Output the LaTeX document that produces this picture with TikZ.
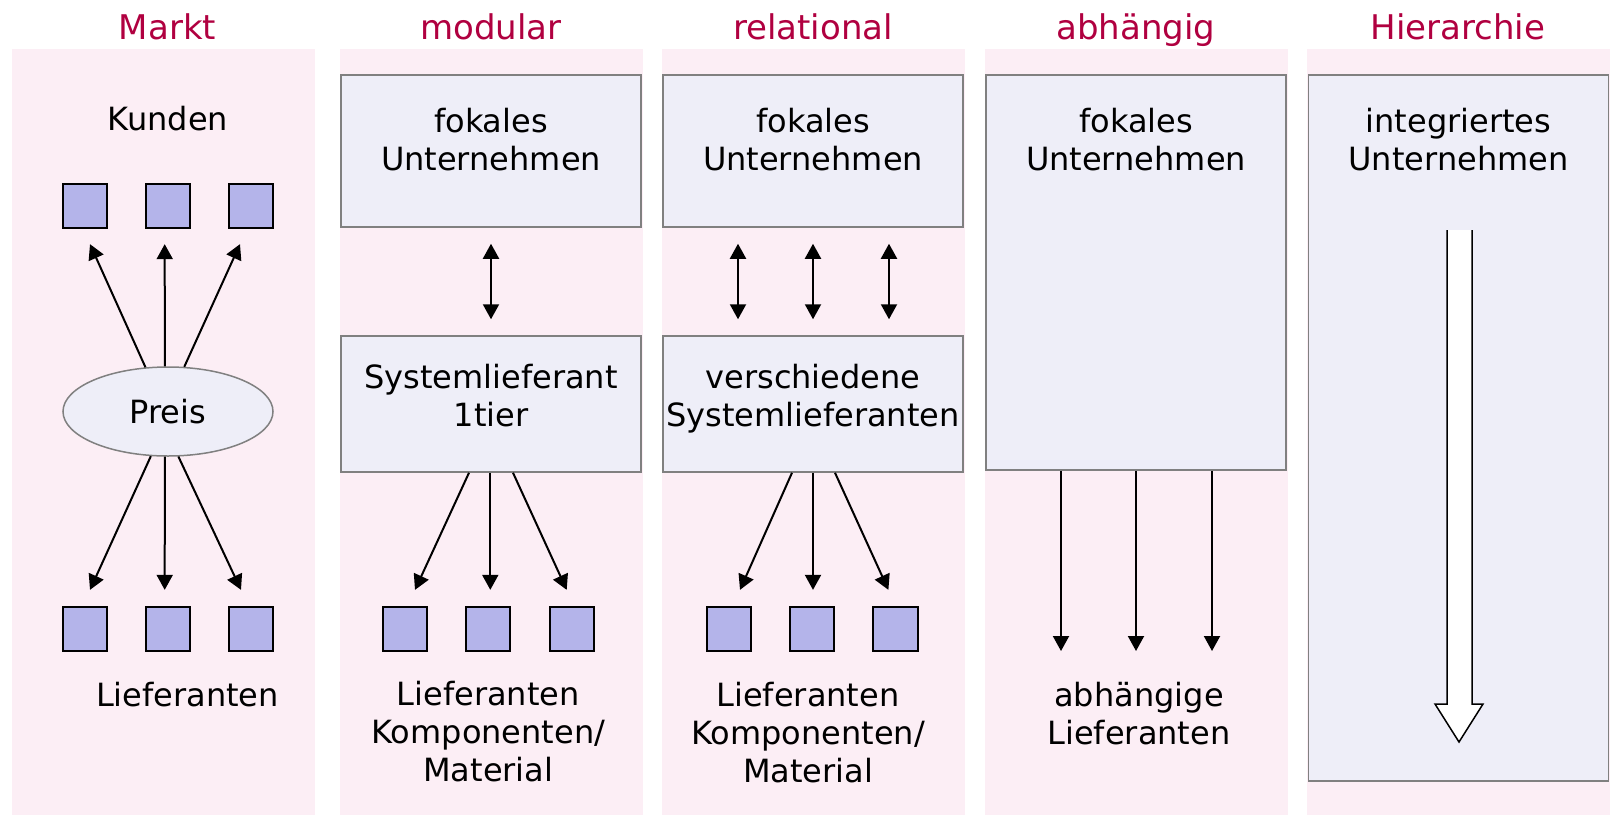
\documentclass[tikz,border=0pt]{standalone}
\usepackage{fontspec}
\setmainfont{DejaVu Sans}
\usetikzlibrary{arrows.meta, shapes.geometric, positioning}

\definecolor{colpink}{RGB}{252,238,245}
\definecolor{firmfill}{RGB}{238,238,248}
\definecolor{firmline}{RGB}{128,128,128}
\definecolor{sqfill}{RGB}{180,180,234}
\definecolor{headred}{RGB}{176,0,64}

\tikzset{
  firm/.style={draw=firmline, fill=firmfill, line width=1.5pt, minimum width=300pt, inner sep=0pt},
  sq/.style={draw=black, fill=sqfill, line width=2pt, minimum size=44.3pt, inner sep=0pt},
  txt/.style={align=center, inner sep=0pt, font=\fontsize{32}{38}\selectfont},
  colhead/.style={inner sep=0pt, anchor=base, text=headred, font=\fontsize{34}{40}\selectfont},
  arr/.style={line width=2pt, -{Triangle[length=15pt,width=16pt]}},
  darr/.style={line width=2pt, {Triangle[length=15pt,width=16pt]}-{Triangle[length=15pt,width=16pt]},
    shorten <=16pt, shorten >=16pt},
}

\begin{document}
\begin{tikzpicture}[x=1pt, y=-1pt]
  \useasboundingbox (0,0) rectangle (1610,815);

  % columns
  \foreach \x in {12,340,662,985,1307}
    \fill[colpink] (\x,49) rectangle ++(303,766);

  \node[colhead] (tMarkt) at (167.5,39) {Markt};
  \node[colhead] (tModular) at (491,39) {modular};
  \node[colhead] (tRelational) at (813,39) {relational};
  \node[colhead] (tAbh) at (1136,39) {abhängig};
  \node[colhead] (tHier) at (1458,39) {Hierarchie};

  % Markt
  \node[txt, anchor=base] (kunden) at (168,130) {Kunden};
  \node[sq] (kd1) at (85,206) {};
  \node[sq] (kd2) at (167.7,206) {};
  \node[sq] (kd3) at (251,206) {};
  \node[txt, ellipse, draw=firmline, fill=firmfill, line width=1.5pt,
        minimum width=210pt, minimum height=89pt] (preis) at (168,411.5) {Preis};
  \node[sq] (lf1) at (85,629) {};
  \node[sq] (lf2) at (167.7,629) {};
  \node[sq] (lf3) at (251,629) {};
  \node[txt, anchor=base] (lief) at (187.5,706.5) {Lieferanten};
  \path[arr]
    (preis.117) edge ([xshift=5pt,yshift=-15pt]kd1.south)
    (preis.94)  edge ([xshift=-3pt,yshift=-15pt]kd2.south)
    (preis.70)  edge ([xshift=-11pt,yshift=-15pt]kd3.south)
    (preis.249) edge ([xshift=5pt,yshift=16pt]lf1.north)
    (preis.266) edge ([xshift=-3pt,yshift=16pt]lf2.north)
    (preis.283) edge ([xshift=-10pt,yshift=16pt]lf3.north);

  % modular
  \node[firm, minimum height=152pt] (fokA) at (491,151) {};
  \node[txt, below=34pt of fokA.north] (fokAtxt) {fokales\\Unternehmen};
  \node[firm, minimum height=136pt] (sysA) at (491,404) {};
  \node[txt, below=29pt of sysA.north] (sysAtxt) {Systemlieferant\\1tier};
  \path[darr] (fokA.south) edge (sysA.north);
  \node[sq] (lA1) at (405,629) {};
  \node[sq] (lA2) at (488.3,629) {};
  \node[sq] (lA3) at (571.7,629) {};
  \path[arr]
    ([xshift=-22pt]sysA.south) edge ([xshift=10pt,yshift=16pt]lA1.north)
    ([xshift=-0.7pt]sysA.south) edge ([xshift=2pt,yshift=16pt]lA2.north)
    ([xshift=22pt]sysA.south) edge ([xshift=-5pt,yshift=16pt]lA3.north);
  \node[txt, below=29pt of lA2.south] (lfAtxt) {Lieferanten\\Komponenten/\\Material};

  % relational
  \node[firm, minimum height=152pt] (fokB) at (813,151) {};
  \node[txt, below=34pt of fokB.north] (fokBtxt) {fokales\\Unternehmen};
  \node[firm, minimum height=136pt] (relB) at (813,404) {};
  \node[txt, below=29pt of relB.north] (relBtxt) {verschiedene\\Systemlieferanten};
  \path[darr]
    ([xshift=-75pt]fokB.south) edge ([xshift=-75pt]relB.north)
    (fokB.south) edge (relB.north)
    ([xshift=76pt]fokB.south) edge ([xshift=76pt]relB.north);
  \node[sq] (lB1) at (729,629) {};
  \node[sq] (lB2) at (812.2,629) {};
  \node[sq] (lB3) at (895.4,629) {};
  \path[arr]
    ([xshift=-21pt]relB.south) edge ([xshift=11pt,yshift=16pt]lB1.north)
    (relB.south) edge ([xshift=0.8pt,yshift=16pt]lB2.north)
    ([xshift=22pt]relB.south) edge ([xshift=-7pt,yshift=16pt]lB3.north);
  \node[txt, anchor=north] (lfBtxt) at (808,681.7) {Lieferanten\\Komponenten/\\Material};

  % abhaengig
  \node[firm, minimum height=395pt] (fokC) at (1136,272.5) {};
  \node[txt, below=34pt of fokC.north] (fokCtxt) {fokales\\Unternehmen};
  \coordinate (abh1) at (1061,651);
  \coordinate (abh2) at (1136,651);
  \coordinate (abh3) at (1212,651);
  \path[arr]
    ([xshift=-75pt]fokC.south) edge (abh1)
    (fokC.south) edge (abh2)
    ([xshift=76pt]fokC.south) edge (abh3);
  \node[txt, anchor=north] (abhtxt) at (1139,682) {abhängige\\Lieferanten};

  % Hierarchie
  \node[firm, minimum height=706pt] (intE) at (1458.5,428) {};
  \node[txt, below=34pt of intE.north] (intEtxt) {integriertes\\Unternehmen};
  \draw[line width=1.5pt, fill=white] (1447,230) -- (1447,704) -- (1435,704)
    -- (1459,742) -- (1483,704) -- (1472,704) -- (1472,230);
\end{tikzpicture}
\end{document}
